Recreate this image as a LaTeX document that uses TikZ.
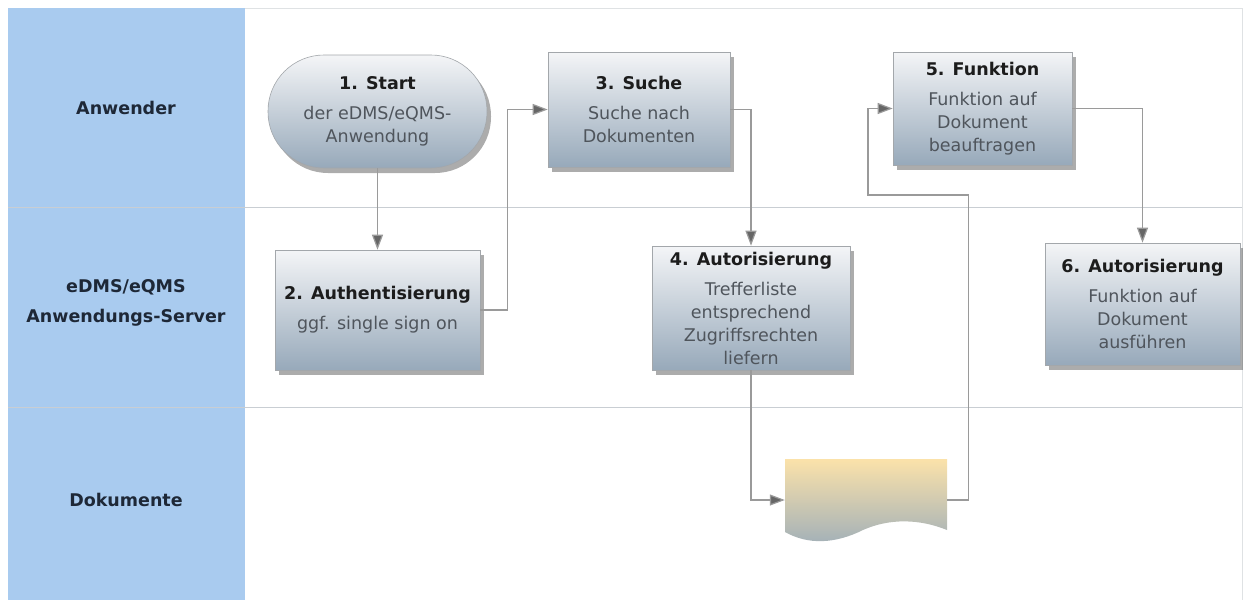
\documentclass[tikz,border=0pt]{standalone}
\usepackage{fontspec}
\setmainfont{DejaVu Sans}
\usetikzlibrary{arrows.meta,shadows,positioning}
\definecolor{laneblue}{HTML}{A9CBEF}
\definecolor{laneline}{HTML}{C9CED3}
\definecolor{boxtop}{HTML}{F4F5F7}
\definecolor{boxbot}{HTML}{97A9BA}
\definecolor{boxline}{HTML}{A3A7AB}
\definecolor{titletext}{HTML}{1C1C1C}
\definecolor{bodytext}{HTML}{4F555C}
\definecolor{lanetext}{HTML}{1E2837}
\definecolor{doctop}{HTML}{FBE2AA}
\definecolor{docbot}{HTML}{A2B0B8}
\definecolor{flowline}{HTML}{9A9A9A}
\definecolor{flowtip}{HTML}{666666}
\newcommand{\tasktext}[2]{\textbf{\color{titletext}#1}\\[7pt]#2}

\begin{document}
\begin{tikzpicture}
        [x=1pt,y=-1pt,
         lane/.style={font=\bfseries\fontsize{17.5}{30}\selectfont,text=lanetext,align=center},
         task/.style={draw=boxline,line width=0.6pt,top color=boxtop,bottom color=boxbot,
           drop shadow={shadow xshift=4pt,shadow yshift=-5pt,opacity=0.5,fill=black!65},
           font=\fontsize{17.5}{23}\selectfont,text=bodytext,align=center,inner sep=0pt},
         flow/.style={draw=flowline,line width=1.2pt,
           -{Triangle[length=15pt,width=11pt,fill=flowtip]}}]
        \useasboundingbox (0,0) rectangle (1243,600);

        \fill[laneblue] (8,8) rectangle (245,600);
        \draw[laneline!60] (245,8) -- (1242,8) -- (1242,600);
        \foreach \y in {207,407}
        {\draw[laneline] (8,\y) -- (1242,\y);}

        \node[lane] (anwender) at (126,108) {Anwender};
        \node[lane] (server) at (126,303) {eDMS/eQMS\\Anwendungs-Server};
        \node[lane] (dokumente) at (126,500) {Dokumente};

        \node[task,rounded corners=56pt,minimum width=219pt,minimum height=113pt] (start) at (377.5,111.5)
          {\tasktext{1. Start}{der eDMS/eQMS-\\Anwendung}};
        \node[task,minimum width=205pt,minimum height=120pt] (auth) at (377.5,310)
          {\tasktext{2. Authentisierung}{ggf. single sign on}};
        \node[task,minimum width=182pt,minimum height=115pt] (suche) at (639,109.5)
          {\tasktext{3. Suche}{Suche nach\\Dokumenten}};
        \node[task,minimum width=198pt,minimum height=124pt] (aut4) at (751,308)
          {\tasktext{4. Autorisierung}{Trefferliste\\entsprechend\\Zugriffsrechten\\liefern}};
        \node[task,minimum width=179pt,minimum height=113pt] (funk) at (982.5,108.5)
          {\tasktext{5. Funktion}{Funktion auf\\Dokument\\beauftragen}};
        \node[task,minimum width=195pt,minimum height=122pt] (aut6) at (1142.5,304)
          {\tasktext{6. Autorisierung}{Funktion auf\\Dokument\\ausführen}};

        \node[minimum width=162pt,minimum height=82pt,inner sep=0pt] (doc) at (866,500) {};
        \shade[top color=doctop,bottom color=docbot] (785,459) -- (947,459) -- (947,530)
          .. controls (920,519) and (890,518) .. (863,530)
          .. controls (835,544) and (808,545) .. (785,532) -- cycle;
        \coordinate (loopback) at (868,195);

        \draw[flow] (start.south) -- (auth.north);
        \draw[flow] (auth.east) -- ++(27,0) |- (suche.west);
        \draw[flow] (suche.east) -| (aut4.north);
        \draw[flow] (aut4.south) |- (doc.west);
        \draw[flow] (doc.east) -- ++(21,0) |- (loopback) |- (funk.west);
        \draw[flow] (funk.east) -| (aut6.north);
      \end{tikzpicture}
\end{document}
